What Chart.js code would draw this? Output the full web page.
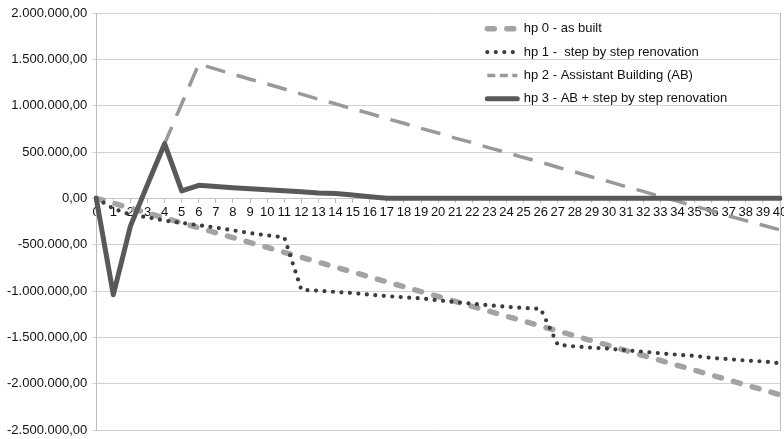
<!DOCTYPE html>
<html>
<head>
<meta charset="utf-8">
<script src="https://cdn.jsdelivr.net/npm/chart.js@4/dist/chart.umd.min.js"></script>
<style>
html,body{margin:0;padding:0;background:#fff;}
#wrap{width:784px;height:439px;position:relative;}
</style>
</head>
<body>
<div id="wrap"><canvas id="c" width="784" height="439"></canvas></div>
<script>
const years = ['0','1','2','3','4','5','6','7','8','9','10','11','12','13','14','15','16','17','18','19','20',
  '21','22','23','24','25','26','27','28','29','30','31','32','33','34','35','36','37','38','39','40'];

const seriesNames = [
  'hp 0 - as built',
  'hp 1 -  step by step renovation',
  'hp 2 - Assistant Building (AB)',
  'hp 3 - AB + step by step renovation'
];

const hp0 = [0,-53000,-106000,-159000,-212000,-265000,-318000,-371000,-424000,-477000,-530000,
  -583000,-636000,-689000,-742000,-795000,-848000,-901000,-954000,-1007000,-1060000,
  -1113000,-1166000,-1219000,-1272000,-1325000,-1378000,-1431000,-1484000,-1537000,-1590000,
  -1643000,-1696000,-1749000,-1802000,-1855000,-1908000,-1961000,-2014000,-2067000,-2120000];

const hp1 = [0,-111000,-176000,-205000,-240000,-265000,-290000,-316000,-345000,-375000,-400000,
  -420000,-987000,-997000,-1010000,-1022000,-1040000,-1055000,-1068000,-1080000,-1100000,
  -1120000,-1137000,-1155000,-1170000,-1183000,-1194000,-1580000,-1598000,-1612000,-1623000,
  -1640000,-1655000,-1672000,-1688000,-1700000,-1722000,-1735000,-1750000,-1760000,-1780000];

const hp2 = [0,-1040000,-300000,150000,590000,1020000,1450000,1395000,1340000,1285000,1235000,
  1180000,1125000,1070000,1020000,965000,915000,860000,810000,755000,705000,
  650000,600000,545000,495000,440000,390000,335000,285000,230000,180000,
  125000,75000,20000,-30000,-85000,-135000,-190000,-240000,-290000,-340000];

const hp3 = [0,-1040000,-300000,150000,590000,80000,140000,128000,115000,104000,93000,
  82000,70000,58000,52000,35000,18000,0,0,0,0,
  0,0,0,0,0,0,0,0,0,0,
  0,0,0,0,0,0,0,0,0,0];

const yMin = -2500000, yMax = 2000000, yStep = 500000;

function fmt(v){
  const neg = v < 0;
  const s = Math.abs(v).toFixed(2).split('.');
  const intPart = s[0].replace(/\B(?=(\d{3})+(?!\d))/g, '.');
  return (neg ? '-' : '') + intPart + ',' + s[1];
}

const FONT = 'Liberation Sans, Arial, sans-serif';

const legendMover = {
  id: 'legendMover',
  afterLayout(chart){
    const lg = chart.legend;
    if(!lg) return;
    const left = 477, top = 12;
    lg.left = left; lg.right = left + lg.width;
    lg.top = top;
  }
};

// legend sample dash patterns (Excel draws shorter dashes in the legend key for hp 2)
const legendDash = [[7, 12.5], [0, 8.5], [8, 4.5], []];

new Chart(document.getElementById('c'), {
  type: 'line',
  data: {
    labels: years,
    datasets: [
      { label: seriesNames[0], data: hp0, borderColor: '#a3a3a3', backgroundColor: '#a3a3a3',
        borderWidth: 5.5, borderDash: [7, 12.5], borderCapStyle: 'round', borderJoinStyle: 'round', pointRadius: 0, order: 4 },
      { label: seriesNames[1], data: hp1, borderColor: '#3c3c3c', backgroundColor: '#3c3c3c',
        borderWidth: 4.2, borderDash: [0, 8.5], borderCapStyle: 'round', borderJoinStyle: 'round', pointRadius: 0, order: 3 },
      { label: seriesNames[2], data: hp2, borderColor: '#999999', backgroundColor: '#999999',
        borderWidth: 3.5, borderDash: [20, 12], borderCapStyle: 'butt', borderJoinStyle: 'round', pointRadius: 0, order: 2 },
      { label: seriesNames[3], data: hp3, borderColor: '#595959', backgroundColor: '#595959',
        borderWidth: 5, borderJoinStyle: 'round', borderCapStyle: 'round', pointRadius: 0, order: 1 }
    ]
  },
  options: {
    responsive: false,
    animation: false,
    devicePixelRatio: 1,
    layout: { padding: { left: 2, right: 4, top: 13, bottom: 9 } },
    elements: { line: { tension: 0 } },
    plugins: {
      tooltip: { enabled: false },
      legend: {
        position: 'chartArea',
        align: 'start',
        labels: {
          usePointStyle: true,
          pointStyle: 'line',
          pointStyleWidth: 30,
          padding: 10.3,
          color: '#111',
          font: { family: FONT, size: 13 },
          generateLabels(chart){
            return chart.data.datasets.map((ds, i) => ({
              text: ds.label,
              datasetIndex: i,
              hidden: false,
              fillStyle: ds.borderColor,
              strokeStyle: ds.borderColor,
              lineWidth: ds.borderWidth,
              lineDash: legendDash[i],
              lineCap: ds.borderCapStyle || 'butt',
              lineJoin: 'round',
              pointStyle: 'line',
              rotation: 0,
              fontColor: '#111'
            }));
          }
        }
      }
    },
    scales: {
      x: {
        type: 'category',
        position: { y: 0 },
        offset: false,
        grid: { display: true, drawOnChartArea: false, drawTicks: true, tickLength: 4, color: '#bdbdbd' },
        border: { display: true, color: '#c4c4c4' },
        ticks: { autoSkip: false, maxRotation: 0, minRotation: 0, padding: 2, color: '#111',
          font: { family: FONT, size: 13 } },
        afterFit(scale){ scale.paddingLeft = 0; scale.paddingRight = 0; }
      },
      y: {
        min: yMin, max: yMax,
        grid: { color: '#d2d2d2', tickLength: 4, drawTicks: true },
        border: { display: true, color: '#bdbdbd' },
        ticks: { stepSize: yStep, padding: 5, color: '#111', font: { family: FONT, size: 13 },
          callback: (v) => fmt(v) },
        afterFit(scale){ scale.paddingTop = 0; scale.paddingBottom = 0; }
      },
      y2: {
        position: 'right', display: true,
        grid: { drawOnChartArea: false, drawTicks: false },
        border: { display: true, color: '#bdbdbd' },
        ticks: { display: false }
      }
    }
  },
  plugins: [legendMover]
});
</script>
</body>
</html>
